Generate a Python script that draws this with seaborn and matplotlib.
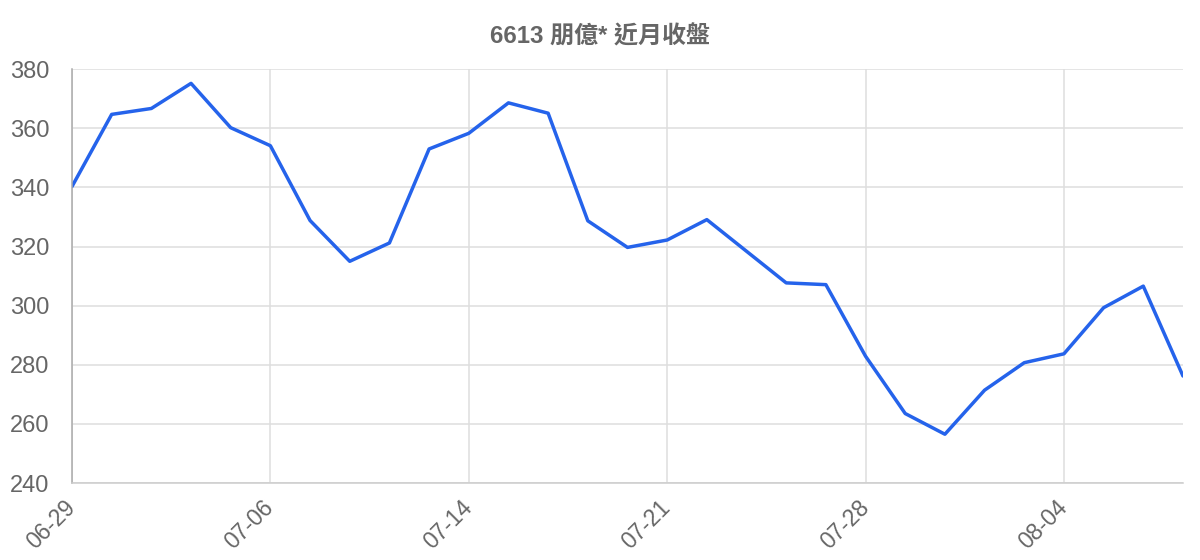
import matplotlib
matplotlib.use('Agg')
import matplotlib.pyplot as plt
import seaborn as sns
import pandas as pd

# trading days shown on the chart (labels every 5th point)
dates = ["06-29", "06-30", "07-03", "07-04", "07-05", "07-06", "07-07", "07-10",
         "07-11", "07-13", "07-14", "07-17", "07-18", "07-19", "07-20", "07-21",
         "07-24", "07-25", "07-26", "07-27", "07-28", "07-31", "08-01", "08-02",
         "08-03", "08-04", "08-07", "08-08", "08-09"]
close = [340.3, 364.7, 366.7, 375.2, 360.2, 354.1, 328.8, 315.0, 321.2, 353.0,
         358.3, 368.6, 365.1, 328.7, 319.7, 322.2, 329.1, 318.4, 307.7, 307.1,
         282.9, 263.5, 256.5, 271.4, 280.7, 283.7, 299.3, 306.6, 276.2]
y_ticks = [240, 260, 280, 300, 320, 340, 360, 380]
title = "6613 朋億* 近月收盤"

df = pd.DataFrame({"idx": range(len(dates)), "date": dates, "close": close})

sns.set_style("white")
plt.rcParams['font.family'] = ['Liberation Sans', 'Noto Sans CJK TC', 'DejaVu Sans']

fig = plt.figure(figsize=(12, 5.6), dpi=100)
ax = fig.add_axes([0.06, 0.1375, 0.9258, 0.739])

sns.lineplot(data=df, x="idx", y="close", ax=ax, color="#2563eb", linewidth=2.5)

xt = list(range(0, len(dates), 5))
ax.set_xticks(xt)
ax.set_xticklabels([dates[i] for i in xt], rotation=45, ha='right', va='center',
                   rotation_mode='anchor', fontsize=16.5, color="#666666")
ax.set_yticks(y_ticks)
ax.set_yticklabels([str(v) for v in y_ticks], fontsize=17, color="#666666")
ax.set_xlim(0, len(dates) - 1)
ax.set_ylim(240, 380)
ax.set_xlabel("")
ax.set_ylabel("")

ax.grid(True, color="#dedede", linewidth=1.1)
ax.tick_params(axis='y', length=14.5, width=1.1, color="#dedede", pad=2)
ax.tick_params(axis='x', length=11.5, width=1.1, color="#dedede", pad=4)
for s in ["top", "right"]:
    ax.spines[s].set_visible(False)
ax.spines["left"].set_color("#aaaaaa")
ax.spines["left"].set_linewidth(1.1)
ax.spines["bottom"].set_color("#cccccc")
ax.spines["bottom"].set_linewidth(1.1)

fig.text(0.5, 0.935, title, ha='center', va='center', fontsize=17.3,
         fontweight='bold', color="#666666")

fig.savefig("out.png", dpi=100)
plt.close(fig)
